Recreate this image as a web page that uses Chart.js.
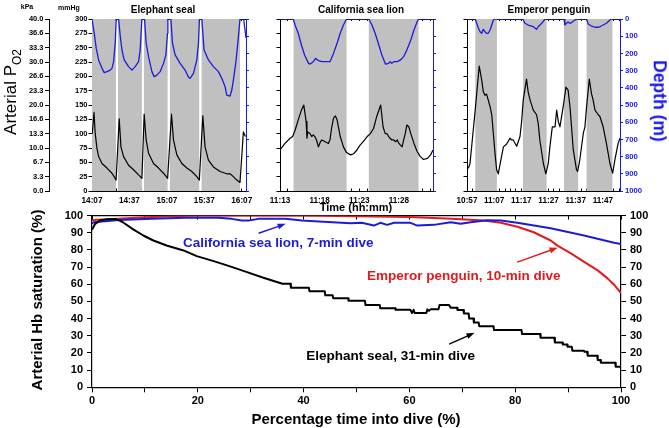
<!DOCTYPE html>
<html>
<head>
<meta charset="utf-8">
<script src="https://cdn.jsdelivr.net/npm/chart.js@4.4.1/dist/chart.umd.min.js"></script>
<style>
  body { margin: 0; background: #fff; }
  #wrap { position: relative; width: 669px; height: 428px; overflow: hidden; font-family: "Liberation Sans", Arial, sans-serif; }
  canvas { position: absolute; }
  .lbl { position: absolute; white-space: nowrap; font-weight: bold; transform: translate(-50%, -50%); line-height: 1; }
</style>
</head>
<body>
<div id="wrap">
  <canvas id="seal" style="left:0;top:0" width="262" height="205"></canvas>
  <canvas id="lion" style="left:250px;top:0" width="190" height="205"></canvas>
  <canvas id="penguin" style="left:440px;top:0" width="229" height="205"></canvas>
  <canvas id="sat" style="left:0;top:205px" width="669" height="223"></canvas>

  <div class="lbl" style="left:27px;top:6px;font-size:7px">kPa</div>
  <div class="lbl" style="left:69px;top:7px;font-size:7px">mmHg</div>
  <div class="lbl" style="left:163px;top:10px;font-size:10px">Elephant seal</div>
  <div class="lbl" style="left:361px;top:10px;font-size:10px">California sea lion</div>
  <div class="lbl" style="left:549px;top:10px;font-size:10px">Emperor penguin</div>
  <div class="lbl" style="left:356px;top:207px;font-size:11px">Time (hh:mm)</div>
  <div class="lbl" style="left:13px;top:92px;font-size:17px;font-weight:normal;transform:translate(-50%,-50%) rotate(-90deg)">Arterial P<sub style="font-size:0.7em">O2</sub></div>
  <div class="lbl" style="left:659px;top:101px;font-size:17.5px;color:#1515f0;transform:translate(-50%,-50%) rotate(90deg)">Depth (m)</div>
  <div class="lbl" style="left:36px;top:300px;font-size:15px;transform:translate(-50%,-50%) rotate(-90deg)">Arterial Hb saturation (%)</div>
  <div class="lbl" style="left:356px;top:418px;font-size:15px">Percentage time into dive (%)</div>
</div>
<script>
// ---- top panels: arterial PO2 (mmHg) and depth (m) against minutes from panel start ----
const mmHgTicks = [0, 25, 50, 75, 100, 125, 150, 175, 200, 225, 250, 275, 300];
const kPaLabels = ["0.0", "3.3", "6.7", "10.0", "13.3", "16.6", "20.0", "23.3", "26.6", "30.0", "33.3", "36.6", "40.0"];
const depthTicks = [0, 100, 200, 300, 400, 500, 600, 700, 800, 900, 1000];

const sealTimeTicks = [0, 30, 60, 90, 120];
const sealTimeLabels = ["14:07", "14:37", "15:07", "15:37", "16:07"];
const sealDiveStart = [0, 20.8, 41.6, 62.4, 87.8];
const sealDiveEnd = [19.2, 40.0, 60.6, 85.9, 118.7];
const sealPo2Time = [0.2, 1.6, 2.6, 4.0, 5.3, 8.0, 12.0, 16.0, 18.6, 19.3,
  21.8, 23.2, 25.3, 29.3, 33.3, 37.3, 40.0,
  41.8, 43.4, 45.3, 49.3, 53.3, 57.3, 60.6,
  63.7, 65.3, 68.0, 72.0, 76.0, 80.0, 84.0, 86.0,
  88.8, 90.6, 93.3, 97.3, 102.6, 108.0, 110.6, 113.3, 116.0, 118.6,
  121.3, 123.0];
const sealPo2 = [100, 137, 100, 74, 60, 48, 40, 31, 22, 19,
  126, 77, 60, 45, 37, 28, 22,
  134, 89, 66, 48, 40, 31, 22,
  134, 89, 63, 48, 40, 34, 25, 19,
  131, 77, 54, 42, 34, 30, 30, 25, 19, 15,
  103, 95];
const sealDepthTime = [0, 0.8, 1.8, 3.4, 5.3, 8.0, 9.8, 12.0, 14.6, 16.0, 17.3, 18.6, 19.4,
  21.3, 22.7, 24.0, 25.8, 29.3, 32.0, 34.6, 37.3, 38.6, 40.0,
  42.1, 43.4, 45.3, 48.0, 49.8, 52.0, 54.6, 57.3, 59.2, 60.5, 60.8,
  63.2, 64.5, 66.6, 70.6, 74.6, 77.3, 78.6, 81.3, 84.0, 85.3, 86.1,
  88.0, 89.8, 93.3, 97.3, 101.3, 104.0, 106.6, 108.0, 110.6, 112.0, 113.3, 115.5, 117.3, 118.6,
  121.5, 123.4];
const sealDepth = [0, 0, 83, 171, 238, 287, 312, 306, 297, 287, 248, 141, 0,
  0, 103, 180, 238, 277, 297, 277, 248, 180, 0,
  0, 141, 219, 306, 335, 326, 306, 258, 209, 83, 0,
  0, 141, 209, 258, 297, 339, 345, 316, 238, 141, 0,
  0, 180, 238, 277, 306, 345, 393, 442, 448, 413, 355, 238, 103, 0,
  0, 110];

const lionTimeTicks = [0, 5, 10, 15];
const lionTimeLabels = ["11:13", "11:18", "11:23", "11:28"];
const lionDiveStart = [1.68, 11.2];
const lionDiveEnd = [8.4, 17.5];
const lionPo2Time = [0, 0.63, 1.27, 1.6, 1.9, 2.3, 2.7, 3.0, 3.3, 3.4,
  3.5, 3.8, 4.0, 4.2, 4.4, 4.6, 4.85, 5.1, 5.3, 5.7,
  6.1, 6.3, 6.5, 6.75, 7.0, 7.2, 7.6, 8.0, 8.4, 8.9,
  9.3, 9.7, 10.1, 10.5, 11.0, 11.4, 11.8, 12.2, 12.7, 13.0,
  13.2, 13.3, 13.5, 13.7, 13.9, 14.1, 14.35, 14.6, 14.8, 15.0,
  15.2, 15.4, 15.6, 15.8, 16.0, 16.25, 16.5, 16.9, 17.3, 17.7,
  18.1, 18.6, 19.0, 19.3];
const lionPo2 = [71.5, 83, 92, 95, 106, 124, 141, 150, 121, 92,
  103, 100, 95, 98, 95, 89, 77, 86, 89, 86,
  83, 89, 109, 127, 131, 124, 95, 77, 67, 63,
  65, 71.5, 80, 86, 95, 100, 109, 130, 150, 112,
  103, 100, 100, 95, 92, 89, 89, 86, 89, 83,
  80, 77, 89, 100, 115, 112, 100, 83, 69, 60,
  55, 57, 63, 71.5];
const lionDepthTime = [0, 1.68, 1.9, 2.3, 2.7, 3.1, 3.6, 3.8, 4.2, 4.5, 4.85, 5.3, 5.9, 6.3, 6.75, 7.2, 7.6, 8.0, 8.4,
  11.2, 11.6, 12.0, 12.4, 12.85, 13.3, 13.7, 13.9, 14.1, 14.35, 14.8, 15.2, 15.6, 16.0, 16.5, 16.9, 17.3, 17.5, 19.3];
const lionDepth = [0, 0, 35, 83, 151, 209, 258, 262, 248, 229, 242, 248, 248, 248, 200, 141, 83, 35, 0,
  0, 35, 83, 141, 209, 262, 258, 248, 258, 248, 248, 238, 219, 180, 122, 64, 16, 0, 0];

const pengTimeTicks = [0, 10, 20, 30, 40, 50];
const pengTimeLabels = ["10:57", "11:07", "11:17", "11:27", "11:37", "11:47"];
const pengDiveStart = [3.0, 20.6, 35.7, 44.0];
const pengDiveEnd = [11.0, 29.3, 40.9, 53.6];
const pengPo2Time = [0.5, 1.1, 2.3, 2.9, 4.5, 5.4, 6.0, 6.6, 7.2, 7.8,
  8.5, 9.1, 9.7, 10.3, 10.9, 11.5, 12.7, 13.4, 14.6, 15.8,
  16.4, 17.0, 18.3, 19.5, 20.1, 20.7, 21.9, 22.5, 23.2, 24.4,
  25.6, 26.2, 26.8, 28.1, 29.0, 29.9, 30.5, 31.4, 32.4, 33.0,
  33.6, 34.2, 35.4, 36.4, 37.2, 37.9, 39.1, 40.3, 40.7, 41.5,
  42.8, 43.4, 44.0, 45.0, 45.8, 46.4, 47.1, 48.3, 48.9, 50.1,
  51.3, 52.6, 53.6, 54.4, 55.6, 56.3];
const pengPo2 = [39.5, 48, 106, 135, 218, 194, 173, 167, 169, 159,
  147, 133, 100, 66, 37, 30, 60, 77, 82, 92,
  89, 89, 78, 95, 121, 159, 195, 173, 159, 141,
  133, 118, 89, 48, 30, 48, 77, 112, 112, 141,
  121, 112, 147, 181, 176, 147, 72, 37, 34, 54,
  101, 112, 147, 195, 170, 159, 141, 133, 130, 112,
  83, 48, 31, 54, 83, 92];
const pengDepthTime = [0, 3.0, 4.2, 4.8, 5.4, 6.0, 6.6, 7.2, 7.8, 8.5, 9.1, 9.7, 10.3,
  20.6, 21.3, 22.5, 24.4, 25.6, 26.2, 27.5, 28.7,
  35.7, 36.0, 36.6, 37.2, 37.9, 38.5, 39.7, 40.6,
  44.0, 44.6, 45.8, 47.1, 48.3, 48.9, 50.1, 51.3, 52.6, 53.2, 56.3];
const pengDepth = [0, 0, 54, 74, 83, 60, 74, 83, 83, 64, 35, 6, 0,
  0, 25, 35, 45, 60, 45, 25, 0,
  0, 35, 25, 18, 25, 21, 6, 0,
  0, 29, 41, 48, 48, 45, 35, 25, 6, 0, 0];

// ---- bottom chart: arterial Hb saturation (%) against % of dive time ----
const pctTicks = [0, 10, 20, 30, 40, 50, 60, 70, 80, 90, 100];
const pctLabels = [0, 20, 40, 60, 80, 100];
const satTicks = [0, 5, 10, 15, 20, 25, 30, 35, 40, 45, 50, 55, 60, 65, 70, 75, 80, 85, 90, 95, 100];
const satLabels = [0, 10, 20, 30, 40, 50, 60, 70, 80, 90, 100];

const sealSatPct = [0, 0.6, 1.5, 2.8, 4.4, 5.3, 5.9, 7.8, 9.7, 11.6, 14.1, 17.3, 19.8, 23.0, 26.1, 29.3, 32.4, 36.0,
  37.5, 37.6, 41.0, 41.1, 44.0, 44.1, 45.5, 45.6, 48.4, 48.5, 51.6, 51.7, 54.4, 54.5, 57.3, 57.4,
  60.2, 60.5, 60.8, 61.0, 63.2, 63.4, 63.7, 64.0, 65.5, 65.7, 67.5, 67.8, 69.0, 69.1, 70.2, 70.3,
  71.2, 71.3, 72.1, 72.2, 73.1, 73.2, 75.9, 76.0, 81.2, 81.3, 84.7, 84.8, 87.4, 87.5, 88.9, 89.0,
  89.8, 89.9, 90.7, 90.8, 93.0, 93.1, 93.6, 93.7, 95.5, 95.6, 96.1, 96.2, 98.9, 99.0, 100];
const sealSat = [91.7, 95.2, 97.1, 97.9, 98, 97, 96, 92, 88.4, 85.5, 82.6, 79.7, 76.4, 73.5, 70.4, 67.1, 63.8, 60.3,
  60.3, 58, 58, 56, 56, 53.6, 53.6, 51.8, 51.8, 50.4, 50.4, 47.9, 47.9, 46, 46, 45.1,
  45.1, 43.3, 45.1, 43.3, 43.3, 45.4, 44.5, 45.4, 45.4, 47.9, 47.9, 46.4, 46.4, 45, 45, 43,
  43, 40, 40, 37.7, 37.7, 35.6, 35.6, 33.3, 33.3, 31, 31, 28.8, 28.8, 26.1, 26.1, 25,
  25, 23.6, 23.6, 21.3, 21.3, 20.7, 20.7, 18.4, 18.4, 15.9, 15.9, 14.3, 14.3, 12, 12];
const lionSatPct = [0, 0.25, 2.5, 5, 11.3, 17.6, 23.9, 26.4, 28.3, 29.6, 31.5, 36.6, 39.7, 42.9, 48.9, 51,
  53.3, 54.5, 55.8, 57.1, 60.2, 61.5, 64.6, 67.8, 69.7, 71.6, 74.7, 77.3, 80.4, 86.7, 93.0, 98.7, 100];
const lionSat = [95.2, 96.1, 96.7, 97.5, 98.1, 98.7, 98.8, 98.1, 97.1, 97.1, 98.1, 98.1, 97.1, 96.5, 95.6, 95.8,
  94.2, 95.8, 94.6, 95.8, 95.8, 94.2, 94.6, 96.1, 95.2, 96.1, 97.3, 97.1, 95.8, 92.6, 88.4, 84.2, 83.5];
const pengSatPct = [0, 5, 10, 15, 20, 40, 50, 60, 68, 74, 77.3, 80.4, 83.5, 86.7, 88, 90.6, 93.1, 95.6, 97.5, 98.8, 100];
const pengSat = [97.5, 98.2, 99, 99.6, 100, 100, 99.6, 99.2, 98.1, 97.1, 95.8, 93.5, 90.3, 85.5, 82.5, 77.8, 72.9, 68.1, 63.3, 59.4, 54.9];

const BLUE = "#1c1cd8";
const RED = "#e31a1c";
const FONT = '"Liberation Sans", Arial, sans-serif';

Chart.defaults.font.family = FONT;
Chart.defaults.font.weight = "bold";
Chart.defaults.animation = false;

const zip = (xs, ys) => xs.map((x, i) => ({ x: x, y: ys[i] }));

function divePoints(starts, ends) {
  const pts = [];
  starts.forEach((s, i) => {
    pts.push({ x: s, y: 0 }, { x: s, y: 300 }, { x: ends[i], y: 300 }, { x: ends[i], y: 0 });
  });
  return pts;
}

// major time ticks plus minor ones every `minor` minutes
function timeTickValues(cfg) {
  const vals = [];
  for (let v = 0; v <= cfg.tMax + 1e-9; v += cfg.minor) vals.push(+v.toFixed(3));
  return vals.map(v => ({ value: v }));
}

function makePanel(id, cfg) {
  const scales = {
    x: {
      type: "linear", min: 0, max: cfg.tMax, z: 1,
      afterBuildTicks: s => { s.ticks = timeTickValues(cfg); },
      afterFit: s => { s.height = 14; },
      ticks: { autoSkip: false, maxRotation: 0, padding: 7, color: "#000", font: { size: 8.2 },
        callback: v => { const i = cfg.tTicks.indexOf(v); return i >= 0 ? cfg.tLabels[i] : ""; } },
      grid: { drawOnChartArea: false, tickLength: -2.5, color: "#000" },
      border: { color: "#000" }
    },
    xTop: {
      type: "linear", position: "top", min: 0, max: cfg.tMax, z: 1,
      afterBuildTicks: s => { s.ticks = timeTickValues(cfg); },
      afterFit: s => { s.height = 19; },
      ticks: { display: false },
      grid: { drawOnChartArea: false, tickLength: -2, color: "#000" },
      border: { color: "#000" }
    },
    y: {
      type: "linear", position: "left", min: 0, max: 300,
      afterBuildTicks: s => { s.ticks = mmHgTicks.map(v => ({ value: v })); },
      afterFit: s => { s.width = cfg.leftW; },
      ticks: { padding: 1, color: "#000", font: { size: 7.5 }, callback: v => cfg.showLeft ? v : "" },
      grid: { drawOnChartArea: false, tickLength: 3.5, color: "#000" },
      border: { color: "#000" }
    },
    depth: {
      type: "linear", position: "right", reverse: true, min: 0, max: 1000,
      afterBuildTicks: s => { s.ticks = depthTicks.map(v => ({ value: v })); },
      afterFit: s => { s.width = cfg.rightW; },
      ticks: { padding: 2, color: "#1515f0", font: { size: 7.7 }, callback: v => cfg.showRight ? v : "" },
      grid: { drawOnChartArea: false, tickLength: 3, color: BLUE },
      border: { color: BLUE }
    }
  };
  if (cfg.showLeft) {
    scales.kpa = {
      type: "linear", position: "left", weight: 1, min: 0, max: 300,
      afterBuildTicks: s => { s.ticks = mmHgTicks.map(v => ({ value: v })); },
      afterFit: s => { s.width = 49; },
      ticks: { padding: 1.5, color: "#000", font: { size: 7.5 }, callback: (v, i) => kPaLabels[i] },
      grid: { drawOnChartArea: false, tickLength: 4, color: "#000" },
      border: { color: "#000" }
    };
  }
  return new Chart(document.getElementById(id), {
    type: "line",
    data: {
      datasets: [
        { data: zip(cfg.depthT, cfg.depth), yAxisID: "depth", borderColor: BLUE, borderWidth: 1.3, order: 0 },
        { data: zip(cfg.po2T, cfg.po2), yAxisID: "y", borderColor: "#000", borderWidth: 1.2, order: 1 },
        { data: divePoints(cfg.diveStart, cfg.diveEnd), yAxisID: "y", fill: "origin",
          backgroundColor: "#c0c0c0", borderColor: "rgba(0,0,0,0)", borderWidth: 0, order: 10 }
      ]
    },
    options: {
      responsive: false,
      layout: { padding: 0 },
      elements: { point: { radius: 0 }, line: { tension: 0, borderJoinStyle: "round" } },
      plugins: { legend: { display: false }, tooltip: { enabled: false } },
      scales: scales
    }
  });
}

makePanel("seal", {
  tMax: 123.4, minor: 5, tTicks: sealTimeTicks, tLabels: sealTimeLabels, leftW: 43, rightW: 16,
  showLeft: true, showRight: false,
  diveStart: sealDiveStart, diveEnd: sealDiveEnd,
  po2T: sealPo2Time, po2: sealPo2, depthT: sealDepthTime, depth: sealDepth
});
makePanel("lion", {
  tMax: 19.3, minor: 1, tTicks: lionTimeTicks, tLabels: lionTimeLabels, leftW: 30, rightW: 7,
  showLeft: false, showRight: false,
  diveStart: lionDiveStart, diveEnd: lionDiveEnd,
  po2T: lionPo2Time, po2: lionPo2, depthT: lionDepthTime, depth: lionDepth
});
makePanel("penguin", {
  tMax: 56.3, minor: 2, tTicks: pengTimeTicks, tLabels: pengTimeLabels, leftW: 27, rightW: 49,
  showLeft: false, showRight: true,
  diveStart: pengDiveStart, diveEnd: pengDiveEnd,
  po2T: pengPo2Time, po2: pengPo2, depthT: pengDepthTime, depth: pengDepth
});

// labels and arrows on the saturation chart, in data units
const notes = [
  { text: "California sea lion, 7-min dive", color: BLUE, at: [17.2, 83.7], arrow: [31.5, 89.7, 36.6, 95.2] },
  { text: "Emperor penguin, 10-min dive", color: RED, at: [52.0, 64.6], arrow: [80.4, 72.9, 88.0, 81.3] },
  { text: "Elephant seal, 31-min dive", color: "#000", at: [40.5, 17.8], arrow: [67.5, 25.1, 72.3, 31.7] }
];

const notesPlugin = {
  id: "notes",
  afterDatasetsDraw(chart) {
    const ctx = chart.ctx;
    const x = chart.scales.x, y = chart.scales.y;
    ctx.save();
    notes.forEach(n => {
      ctx.fillStyle = n.color;
      ctx.strokeStyle = n.color;
      ctx.font = "bold 13.5px " + FONT;
      ctx.textBaseline = "middle";
      ctx.textAlign = "left";
      ctx.fillText(n.text, x.getPixelForValue(n.at[0]), y.getPixelForValue(n.at[1]));

      const x1 = x.getPixelForValue(n.arrow[0]), y1 = y.getPixelForValue(n.arrow[1]);
      const x2 = x.getPixelForValue(n.arrow[2]), y2 = y.getPixelForValue(n.arrow[3]);
      const ang = Math.atan2(y2 - y1, x2 - x1);
      const cos = Math.cos(ang), sin = Math.sin(ang);
      ctx.lineWidth = 1.4;
      ctx.beginPath();
      ctx.moveTo(x1, y1);
      ctx.lineTo(x2 - 6 * cos, y2 - 6 * sin);
      ctx.stroke();
      const bx = x2 - 8 * cos, by = y2 - 8 * sin;
      ctx.beginPath();
      ctx.moveTo(x2, y2);
      ctx.lineTo(bx - 3 * sin, by + 3 * cos);
      ctx.lineTo(bx + 3 * sin, by - 3 * cos);
      ctx.closePath();
      ctx.fill();
    });
    ctx.restore();
  }
};

const satAxis = (pos, width) => ({
  type: "linear", position: pos, min: 0, max: 100,
  afterBuildTicks: s => { s.ticks = satTicks.map(v => ({ value: v })); },
  afterFit: s => { s.width = width; },
  ticks: { padding: 4, color: "#000", font: { size: 11 }, callback: v => satLabels.includes(v) ? v : "" },
  grid: { drawOnChartArea: false, tickLength: 5, color: "#000" },
  border: { color: "#000", width: 1.2 }
});

new Chart(document.getElementById("sat"), {
  type: "line",
  data: {
    datasets: [
      { data: zip(sealSatPct, sealSat), borderColor: "#000", borderWidth: 2, order: 0 },
      { data: zip(lionSatPct, lionSat), borderColor: BLUE, borderWidth: 2, order: 1 },
      { data: zip(pengSatPct, pengSat), borderColor: RED, borderWidth: 2, order: 2 }
    ]
  },
  options: {
    responsive: false,
    layout: { padding: 0 },
    elements: { point: { radius: 0 }, line: { tension: 0, borderJoinStyle: "round" } },
    plugins: { legend: { display: false }, tooltip: { enabled: false } },
    scales: {
      x: {
        type: "linear", min: 0, max: 100,
        afterBuildTicks: s => { s.ticks = pctTicks.map(v => ({ value: v })); },
        afterFit: s => { s.height = 40.7; },
        ticks: { autoSkip: false, maxRotation: 0, padding: 2, color: "#000", font: { size: 11 },
          callback: v => pctLabels.includes(v) ? v : "" },
        grid: { drawOnChartArea: false, tickLength: 5, color: "#000" },
        border: { color: "#000", width: 1.2 }
      },
      xTop: {
        type: "linear", position: "top", min: 0, max: 100, z: 1,
        afterBuildTicks: s => { s.ticks = pctTicks.map(v => ({ value: v })); },
        afterFit: s => { s.height = 10; },
        ticks: { display: false },
        grid: { drawOnChartArea: false, tickLength: -4, color: "#000" },
        border: { color: "#000", width: 1.2 }
      },
      y: satAxis("left", 92),
      y2: satAxis("right", 48)
    }
  },
  plugins: [notesPlugin]
});
</script>
</body>
</html>
